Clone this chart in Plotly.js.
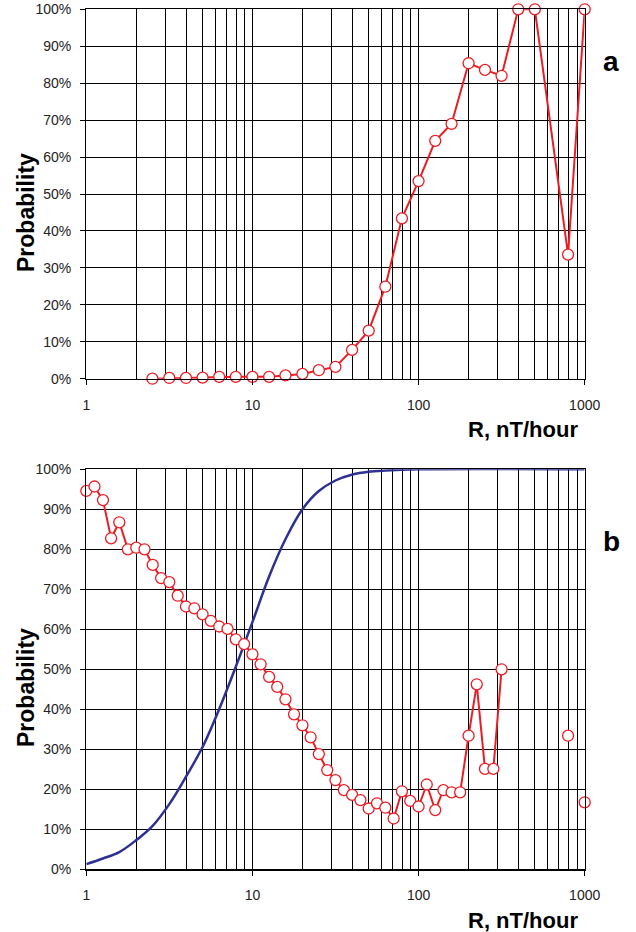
<!DOCTYPE html>
<html>
<head>
<meta charset="utf-8">
<script src="https://cdn.plot.ly/plotly-3.0.1.min.js"></script>
<style>html,body{margin:0;padding:0;background:#fff}#chart{width:636px;height:932px}</style>
</head>
<body>
<div id="chart"></div>
<script>
// ---- Data ----
// Panel a
const aR = [2.5, 3.16, 3.98, 5.01, 6.31, 7.94, 10, 12.6, 15.8, 20, 25.1, 31.6, 39.8, 50.1, 63.1, 79.4, 100, 126, 158, 200, 251, 316, 398, 501, 794, 1000];
const aProb = [0, 0.2, 0.2, 0.3, 0.5, 0.5, 0.5, 0.5, 0.9, 1.3, 2.3, 3.2, 7.8, 13.0, 24.9, 43.4, 53.5, 64.4, 69.0, 85.4, 83.6, 82.0, 100, 100, 33.6, 100];

// Panel b (red, null = gap in the line)
const bR = [1, 1.12, 1.26, 1.41, 1.58, 1.78, 2, 2.24, 2.51, 2.82, 3.16, 3.55, 3.98, 4.47, 5.01, 5.62, 6.31, 7.08, 7.94, 8.91,
            10, 11.2, 12.6, 14.1, 15.8, 17.8, 20, 22.4, 25.1, 28.2, 31.6, 35.5, 39.8, 44.7, 50.1, 56.2, 63.1, 70.8, 79.4, 89.1,
            100, 112, 126, 141, 158, 178, 200, 224, 251, 282, 316, 450, 794, 891, 1000];
const bProb = [94.6, 95.7, 92.3, 82.75, 86.75, 80, 80.4, 80, 76.1, 72.8, 71.8, 68.4, 65.7, 65.25, 63.75, 62.1, 60.7, 60.1, 57.5, 56.3,
               53.75, 51.25, 48.1, 45.6, 42.5, 38.75, 36, 33, 28.8, 24.8, 22.3, 19.8, 18.6, 17.3, 15.2, 16.5, 15.4, 12.7, 19.5, 17.1,
               15.7, 21.2, 14.8, 19.8, 19.25, 19.25, 33.4, 46.25, 25.1, 25.1, 50, null, 33.4, null, 16.75];

// Panel b (blue curve)
const cR = [1, 1.26, 1.58, 2, 2.5, 3.16, 4, 5, 6.3, 8, 10, 12.6, 15.8, 20, 25, 31.6, 40, 50, 63, 100, 1000];
const cProb = [1.3, 2.7, 4.3, 7.3, 10.8, 16.3, 23.3, 30.5, 40, 51, 61.8, 73.2, 82.5, 90, 94.5, 97.2, 98.7, 99.4, 99.7, 100, 100];

// Axis labels
const yTickVals = [0, 10, 20, 30, 40, 50, 60, 70, 80, 90, 100];
const yTickText = ['0%', '10%', '20%', '30%', '40%', '50%', '60%', '70%', '80%', '90%', '100%'];
const xTickVals = [1, 10, 100, 1000];
const xTickText = ['1', '10', '100', '1000'];
const minorDigits = [2, 3, 4, 5, 6, 7, 8, 9];
const decades = [1, 10, 100];

// ---- Styles ----
const W = 636, H = 932;
const RED = '#ec1c24', BLUE = '#2e3192';
const GRID = '#000';
const FONT = 'Arial, "Liberation Sans", sans-serif';
const minorVals = [];
decades.forEach(d => minorDigits.forEach(m => minorVals.push(d * m)));

function px(x) { return x / W; }
function py(y) { return 1 - y / H; }

function xAxis(anchor) {
  return {
    type: 'log', range: [0, 3], domain: [px(86.3), px(584.7)], anchor: anchor,
    tickvals: xTickVals, ticktext: xTickText,
    ticks: 'outside', ticklen: 5, tickwidth: 1, tickcolor: '#000',
    ticklabelstandoff: 8,
    showgrid: true, gridcolor: GRID, gridwidth: 1,
    minor: { tickvals: minorVals, showgrid: true, gridcolor: GRID, gridwidth: 1, ticks: '' },
    showline: true, mirror: true, linecolor: '#000', linewidth: 1.2,
    tickfont: { family: FONT, size: 14, color: '#222' },
    zeroline: false, fixedrange: true
  };
}
function yAxis(top, bottom, anchor) {
  return {
    range: [0, 100], domain: [py(bottom), py(top)], anchor: anchor,
    tickvals: yTickVals, ticktext: yTickText,
    ticks: 'outside', ticklen: 5, tickwidth: 1, tickcolor: '#000',
    ticklabelstandoff: 6,
    showgrid: true, gridcolor: GRID, gridwidth: 1,
    showline: true, mirror: true, linecolor: '#000', linewidth: 1.2,
    tickfont: { family: FONT, size: 14, color: '#222' },
    zeroline: false, fixedrange: true
  };
}

const markerStyle = { symbol: 'circle', size: 11, color: '#fff', line: { color: RED, width: 1.3 } };

const traces = [
  { x: aR, y: aProb, xaxis: 'x', yaxis: 'y', type: 'scatter', mode: 'lines+markers',
    line: { color: RED, width: 2 }, marker: markerStyle, cliponaxis: false, hoverinfo: 'skip' },
  { x: cR, y: cProb, xaxis: 'x2', yaxis: 'y2', type: 'scatter', mode: 'lines',
    line: { color: BLUE, width: 2.5, shape: 'spline', smoothing: 1 }, cliponaxis: false, hoverinfo: 'skip' },
  { x: bR, y: bProb, xaxis: 'x2', yaxis: 'y2', type: 'scatter', mode: 'lines+markers', connectgaps: false,
    line: { color: RED, width: 2 }, marker: markerStyle, cliponaxis: false, hoverinfo: 'skip' }
];

const titleFont = { family: FONT, size: 22, color: '#000' };
const annotations = [
  { text: '<b>Probability</b>', x: px(26), y: py(213), xref: 'paper', yref: 'paper', textangle: -90,
    showarrow: false, font: { family: FONT, size: 23, color: '#000' }, xanchor: 'center', yanchor: 'middle' },
  { text: '<b>Probability</b>', x: px(26), y: py(688), xref: 'paper', yref: 'paper', textangle: -90,
    showarrow: false, font: { family: FONT, size: 23, color: '#000' }, xanchor: 'center', yanchor: 'middle' },
  { text: '<b>R, nT/hour</b>', x: px(523), y: py(429), xref: 'paper', yref: 'paper',
    showarrow: false, font: titleFont, xanchor: 'center', yanchor: 'middle' },
  { text: '<b>R, nT/hour</b>', x: px(523), y: py(920), xref: 'paper', yref: 'paper',
    showarrow: false, font: titleFont, xanchor: 'center', yanchor: 'middle' },
  { text: '<b>a</b>', x: px(611), y: py(61), xref: 'paper', yref: 'paper',
    showarrow: false, font: { family: FONT, size: 28, color: '#000' }, xanchor: 'center', yanchor: 'middle' },
  { text: '<b>b</b>', x: px(611), y: py(541), xref: 'paper', yref: 'paper',
    showarrow: false, font: { family: FONT, size: 28, color: '#000' }, xanchor: 'center', yanchor: 'middle' }
];

const layout = {
  width: W, height: H,
  margin: { l: 0, r: 0, t: 0, b: 0 },
  paper_bgcolor: '#fff', plot_bgcolor: '#fff',
  showlegend: false,
  xaxis: xAxis('y'),
  yaxis: yAxis(9.3, 378.7, 'x'),
  xaxis2: xAxis('y2'),
  yaxis2: yAxis(469.3, 869.3, 'x2'),
  annotations: annotations
};

Plotly.newPlot('chart', traces, layout, { staticPlot: true, displayModeBar: false });
</script>
</body>
</html>
